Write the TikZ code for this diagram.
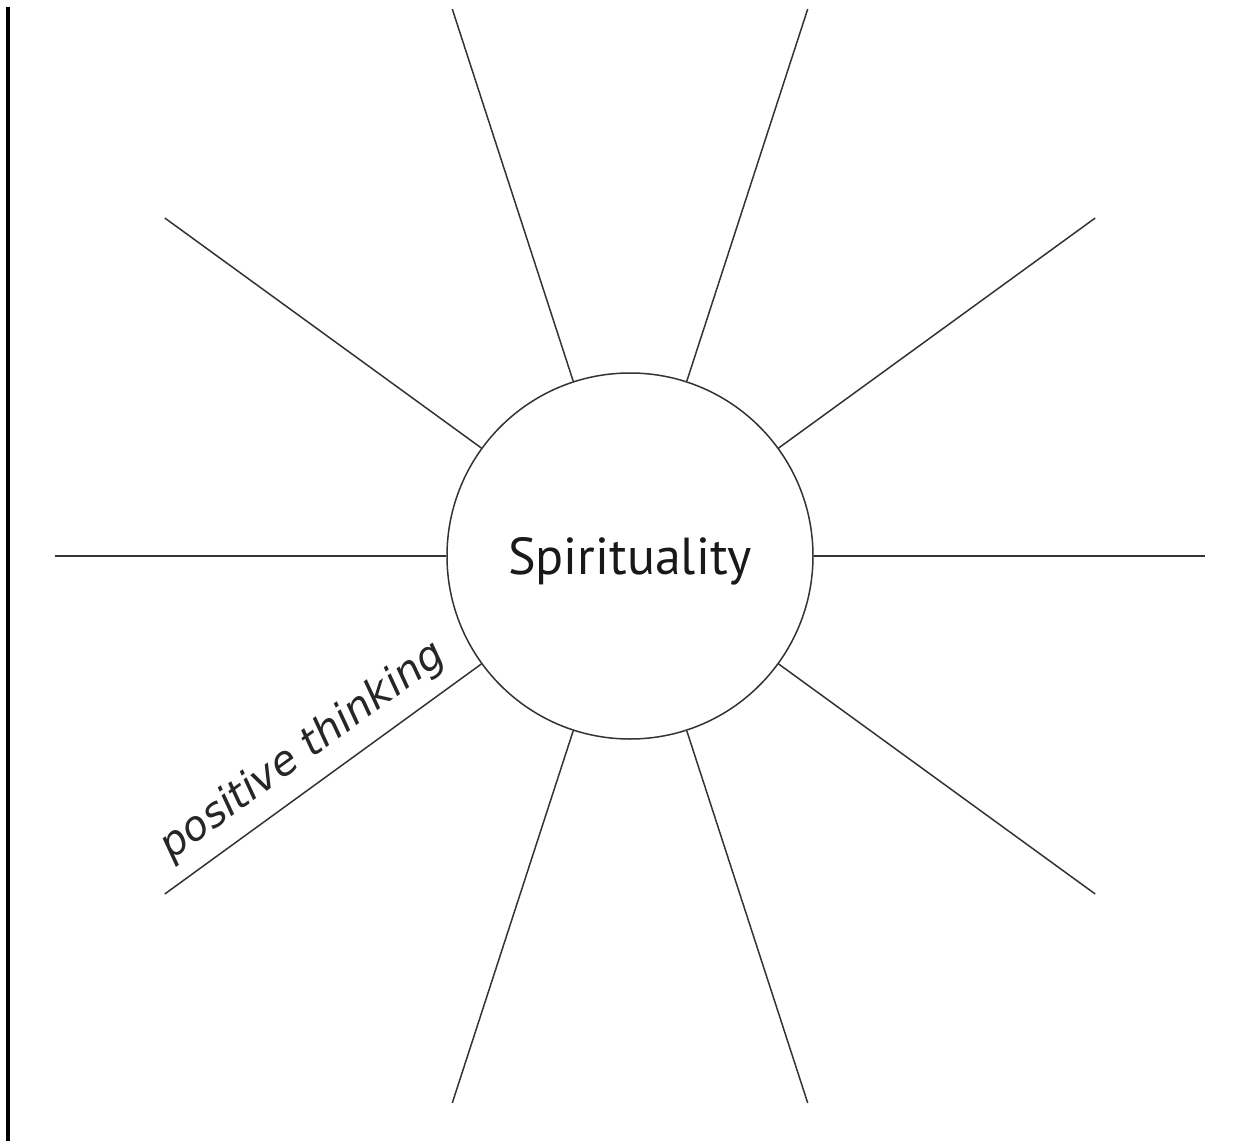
\documentclass[tikz,border=0pt]{standalone}
\usepackage{fontspec}
\setsansfont{PT Sans}
\newfontfamily\notefont{DejaVu Sans}
\usetikzlibrary{calc}

\begin{document}
\begin{tikzpicture}[
  x=0.5pt, y=0.5pt,
  spoke/.style={draw=black!80, line width=0.75pt},
  hub/.style={draw=black!80, line width=0.75pt, circle, minimum size=183pt,
              inner sep=0pt, text=black!90,
              font=\sffamily\fontsize{26}{30}\selectfont,
              text height=18.7pt, text depth=0pt},
  spoke label/.style={font=\notefont\itshape\fontsize{20.5}{24}\selectfont,
                      text=black!85, inner sep=7pt}]

\useasboundingbox (-630,-585) rectangle (621,556);
\draw[line width=2pt] (-622,549) -- (-622,-585);

\node[hub] (c) at (0,0) {Spirituality};
\foreach \i [evaluate=\i as \a using int(36*\i)] in {0,...,9} {
  \coordinate (o\i) at (\a:575);
  \draw[spoke] (c.\a) -- (o\i);
}
\node[spoke label, rotate=36, anchor=south] (pt) at ($(c.216)!0.5!(o6)$) {positive thinking};
\end{tikzpicture}
\end{document}
